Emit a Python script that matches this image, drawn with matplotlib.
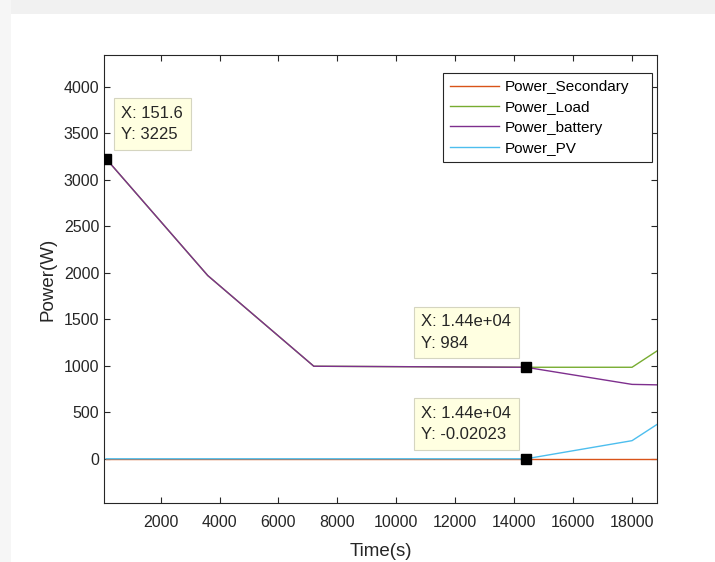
import matplotlib.pyplot as plt
from matplotlib.patches import Rectangle

# time axis (s) and power series (W)
t = [151.6, 3600, 7200, 14400, 18000, 18850]
p_secondary = [0, 0, 0, 0, 0, 0]
p_load = [3225, 1970, 995, 984, 984, 1160]
p_battery = [3225, 1970, 995, 984, 800, 795]
p_pv = [0, 0, 0, -0.02023, 195, 370]

tips = [(151.6, 3225, 'X: 151.6\nY: 3225'),
        (14400, 984, 'X: 1.44e+04\nY: 984'),
        (14400, -0.02023, 'X: 1.44e+04\nY: -0.02023')]

plt.rcParams['font.family'] = ['Liberation Sans', 'DejaVu Sans']
dark = '#262626'

fig = plt.figure(figsize=(7.15, 5.62), dpi=100)
fig.patch.set_facecolor('white')
# screenshot shadow round the window
fig.patches.append(Rectangle((0, 0.975), 1, 0.025, transform=fig.transFigure,
                             facecolor='#f1f1f1', edgecolor='none', zorder=-1))
fig.patches.append(Rectangle((0, 0), 0.015, 1, transform=fig.transFigure,
                             facecolor='#f6f6f6', edgecolor='none', zorder=-1))
ax = fig.add_axes([0.1455, 0.105, 0.7735, 0.797])

ax.plot(t, p_secondary, color='#D95319', lw=1, label='Power_Secondary')
ax.plot(t, p_load, color='#77AC30', lw=1, label='Power_Load')
ax.plot(t, p_battery, color='#7E2F8E', lw=1, label='Power_battery')
ax.plot(t, p_pv, color='#4DBEEE', lw=1, label='Power_PV')

for x, y, s in tips:
    ax.plot(x, y, 's', color='black', ms=7.5, zorder=5)

box = dict(boxstyle='square,pad=0.45', fc='#FFFFE1', ec='#d5d5c0', lw=0.8)
ax.annotate(tips[0][2], (tips[0][0], tips[0][1]), xytext=(11, 12), textcoords='offset points',
            fontsize=12, va='bottom', ha='left', linespacing=1.55, color=dark, bbox=box)
for x, y, s in tips[1:]:
    ax.annotate(s, (x, y), xytext=(-10.5, 12), textcoords='offset points',
                fontsize=12, va='bottom', ha='right', multialignment='left',
                linespacing=1.55, color=dark, bbox=box)

ax.set_xlim(80, 18850)
ax.set_ylim(-475, 4340)
ax.set_xticks(range(2000, 18001, 2000))
ax.set_yticks(range(0, 4001, 500))
ax.tick_params(direction='in', top=True, right=True, labelsize=11.5, length=4,
               colors=dark)
ax.tick_params(axis='x', pad=9)
for sp in ax.spines.values():
    sp.set_color(dark)
    sp.set_linewidth(0.8)

ax.set_xlabel('Time(s)', fontsize=13.5, color=dark, labelpad=9)
ax.set_ylabel('Power(W)', fontsize=13.5, color=dark, labelpad=5)

leg = ax.legend(loc='upper left', bbox_to_anchor=(0.613, 0.96, 0.378, 0), mode='expand',
                borderaxespad=0, fontsize=11, fancybox=False, edgecolor=dark, framealpha=1,
                handlelength=3.2, handletextpad=0.4, labelspacing=0.42, borderpad=0.45)
leg.get_frame().set_linewidth(0.8)

fig.savefig('out.png', dpi=100)
